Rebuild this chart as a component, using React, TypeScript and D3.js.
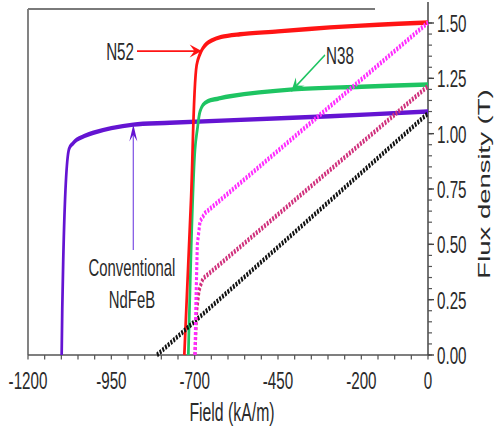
import React from 'react';
import * as d3 from 'd3';

const width = 496;
const height = 429;
const SX = 0.62; // the source figure is squeezed sideways, so everything is drawn wide and scaled back

// axis ticks
const xTicks = [-1200, -950, -700, -450, -200, 0];
const xTickLabels = ['-1200', '-950', '-700', '-450', '-200', '0'];
const yTicks = [0, 0.25, 0.5, 0.75, 1.0, 1.25, 1.5];
const yTickLabels = ['0.00', '0.25', '0.50', '0.75', '1.00', '1.25', '1.50'];

// demagnetisation curves, field in kA/m, flux density in T
const conventionalField = [-1099, -1077, -1066, -1054, -1030, -1004, -950, -884, -774, -600, -294, 0];
const conventionalFlux = [0, 0.93, 0.955, 0.973, 0.99, 1.004, 1.025, 1.041, 1.049, 1.06, 1.079, 1.1];

const n38Field = [-719, -699, -692, -684, -675, -660, -630, -594, -405, -200, 0];
const n38Flux = [0, 0.93, 1.02, 1.1, 1.13, 1.147, 1.158, 1.169, 1.2, 1.212, 1.222];

const n52Field = [-731, -711, -694, -684, -676, -665, -650, -620, -564, -450, -294, -150, 0];
const n52Flux = [0, 0.7, 1.31, 1.36, 1.385, 1.405, 1.42, 1.437, 1.449, 1.462, 1.48, 1.492, 1.502];

const recoilBlackField = [-813, 0];
const recoilBlackFlux = [0, 1.092];

const recoilPinkField = [-699, -694, -687, -680, -675, 0];
const recoilPinkFlux = [0, 0.2, 0.29, 0.325, 0.345, 1.215];

const recoilMagentaField = [-699, -696, -692, -684, -669, 0];
const recoilMagentaFlux = [0, 0.25, 0.5, 0.603, 0.641, 1.502];

const zip = (a: number[], b: number[]) => a.map((v, i) => [v, b[i]] as [number, number]);

const solidSeries = [
  { name: 'Conventional NdFeB', pts: zip(conventionalField, conventionalFlux), color: '#6414d2' },
  { name: 'N38', pts: zip(n38Field, n38Flux), color: '#1ec462' },
  { name: 'N52', pts: zip(n52Field, n52Flux), color: '#ff1414' },
];
const dashedSeries = [
  { name: 'recoil black', pts: zip(recoilBlackField, recoilBlackFlux), color: '#111111' },
  { name: 'recoil pink', pts: zip(recoilPinkField, recoilPinkFlux), color: '#d0307c' },
  { name: 'recoil magenta', pts: zip(recoilMagentaField, recoilMagentaFlux), color: '#ff2cff' },
];

const font = 'Liberation Sans, Arial, Helvetica, sans-serif';

// arrowhead given in screen coords, returned in the widened inner coords
function arrowHead(tx: number, ty: number, fx: number, fy: number, len: number, half: number) {
  const dx = tx - fx;
  const dy = ty - fy;
  const d = Math.hypot(dx, dy);
  const ux = dx / d, uy = dy / d;
  const nx = -uy, ny = ux;
  const pts = [
    [tx, ty],
    [tx - len * ux + half * nx, ty - len * uy + half * ny],
    [tx - 0.6 * len * ux, ty - 0.6 * len * uy],
    [tx - len * ux - half * nx, ty - len * uy - half * ny],
  ];
  return 'M' + pts.map(p => `${p[0] / SX},${p[1]}`).join('L') + 'Z';
}

const App = () => {
  const x = d3.scaleLinear().domain([-1200, 0]).range([28 / SX, 428 / SX]);
  const y = d3.scaleLinear().domain([0, 1.5]).range([355, 23]);

  const smooth = d3
    .line<[number, number]>()
    .x(d => x(d[0]))
    .y(d => y(d[1]))
    .curve(d3.curveCatmullRom.alpha(0.5));
  const straight = d3
    .line<[number, number]>()
    .x(d => x(d[0]))
    .y(d => y(d[1]));

  const xMinor = d3.range(-1200, 1, 50);
  const yMinor = d3.range(0, 1.5001, 0.05);
  const x0 = x(-1200);
  const xEnd = x(0);
  const yBase = y(0);

  // annotation tips sit on the curves
  const n52Tip = [x(-679) * SX, y(1.373)];
  const n38Tip = [x(-410) * SX, y(1.192)];
  const convTip = [x(-884) * SX, y(1.041)];

  return (
    <svg
      width={width}
      height={height}
      style={{ position: 'absolute', left: 0, top: 0, background: '#fff' }}
    >
      <g transform={`scale(${SX},1)`}>
        {/* frame */}
        <line x1={x0} x2={x0} y1={9} y2={yBase} stroke="#7a7a7a" strokeWidth={3} />
        <line x1={x0} x2={375 / SX} y1={9} y2={9} stroke="#7a7a7a" strokeWidth={2} />

        {/* bottom axis */}
        <line x1={x0} x2={xEnd + 2 / SX} y1={yBase} y2={yBase} stroke="#555" strokeWidth={1.6} />
        {xMinor.map(v => (
          <line key={'xm' + v} x1={x(v)} x2={x(v)} y1={yBase} y2={yBase + 4.5} stroke="#555" strokeWidth={2} />
        ))}
        {xTicks.map((v, i) => (
          <text
            key={'xt' + v}
            x={x(v)}
            y={389}
            textAnchor="middle"
            fontFamily={font}
            fontSize={24.5}
            fill="#2a2a2a"
          >
            {xTickLabels[i]}
          </text>
        ))}
        <text x={232 / SX} y={421} textAnchor="middle" fontFamily={font} fontSize={25.5} fill="#2a2a2a">
          Field (kA/m)
        </text>

        {/* right axis */}
        <line x1={xEnd} x2={xEnd} y1={2} y2={yBase} stroke="#444" strokeWidth={2.4} />
        {yMinor.map(v => (
          <line key={'ym' + v} x1={xEnd} x2={xEnd + 4 / SX} y1={y(v)} y2={y(v)} stroke="#555" strokeWidth={1.2} />
        ))}
        {yTicks.map(v => (
          <line key={'yM' + v} x1={xEnd} x2={xEnd + 6 / SX} y1={y(v)} y2={y(v)} stroke="#444" strokeWidth={1.4} />
        ))}
        {yTicks.map((v, i) => (
          <text
            key={'yt' + v}
            x={437 / SX}
            y={y(v)}
            dy="0.37em"
            fontFamily={font}
            fontSize={24.5}
            fill="#2a2a2a"
          >
            {yTickLabels[i]}
          </text>
        ))}
        <text
          transform={`translate(${490 / SX},184) rotate(-90)`}
          textAnchor="middle"
          fontFamily={font}
          fontSize={27.5}
          fill="#2a2a2a"
        >
          Flux density (T)
        </text>

        {/* curves */}
        {solidSeries.map(s => (
          <path
            key={s.name}
            d={smooth(s.pts) || ''}
            fill="none"
            stroke={s.color}
            strokeWidth={4.4}
            strokeLinejoin="round"
          />
        ))}
        {dashedSeries.map(s => (
          <path
            key={s.name}
            d={straight(s.pts) || ''}
            fill="none"
            stroke={s.color}
            strokeWidth={5}
            strokeDasharray="3 2"
          />
        ))}

        {/* N52 annotation */}
        <text x={134 / SX} y={60} textAnchor="end" fontFamily={font} fontSize={24.5} fill="#2a2a2a">
          N52
        </text>
        <line x1={137 / SX} x2={(n52Tip[0] - 6) / SX} y1={n52Tip[1]} y2={n52Tip[1]} stroke="#ff1414" strokeWidth={1.6} />
        <path d={arrowHead(n52Tip[0], n52Tip[1], 137, n52Tip[1], 12, 6.5)} fill="#ff1414" />

        {/* N38 annotation */}
        <text x={326 / SX} y={64} fontFamily={font} fontSize={24.5} fill="#2a2a2a">
          N38
        </text>
        <line x1={325 / SX} x2={n38Tip[0] / SX} y1={55} y2={n38Tip[1]} stroke="#1ec462" strokeWidth={2} />
        <path d={arrowHead(n38Tip[0], n38Tip[1], 325, 55, 13, 6)} fill="#1ec462" />

        {/* conventional annotation */}
        <line x1={convTip[0] / SX} x2={convTip[0] / SX} y1={250} y2={convTip[1] + 6} stroke="#8a62e6" strokeWidth={2.2} />
        <path d={arrowHead(convTip[0], convTip[1], convTip[0], 250, 17, 4)} fill="#6414d2" />
        <text x={132 / SX} y={276} textAnchor="middle" fontFamily={font} fontSize={24} fill="#2a2a2a">
          Conventional
        </text>
        <text x={132 / SX} y={308} textAnchor="middle" fontFamily={font} fontSize={24} fill="#2a2a2a">
          NdFeB
        </text>
      </g>
    </svg>
  );
};

export default App;
